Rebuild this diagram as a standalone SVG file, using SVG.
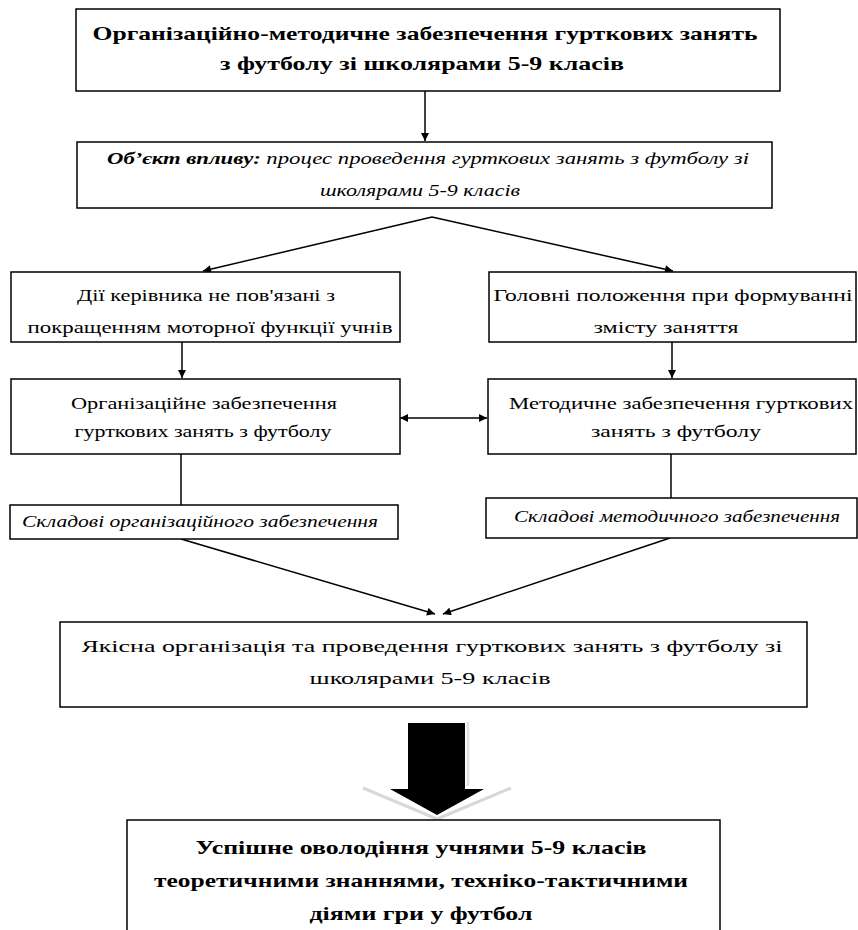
<svg xmlns="http://www.w3.org/2000/svg" width="858" height="930" viewBox="0 0 858 930" font-family="Liberation Serif, Times New Roman, Times, serif">
<style>
.box{fill:#fff;stroke:#000;stroke-width:1.5}
text{font-family:'Liberation Serif',serif}
.t{font-size:17px;fill:#000;text-anchor:middle}
.b{font-weight:bold;font-size:19px}
.i{font-style:italic;font-size:16px}
.c{stroke:#000;stroke-width:1.5;fill:none}
</style>
<defs>
<marker id="ah" viewBox="0 0 10 10" refX="10" refY="5" markerWidth="9" markerHeight="8" markerUnits="userSpaceOnUse" orient="auto-start-reverse">
<path d="M0,0 L10,5 L0,10 z" fill="#000"/>
</marker>
</defs>
<rect width="858" height="930" fill="#fff"/>

<g id="connectors">
<line class="c" x1="425" y1="91" x2="425" y2="141" marker-end="url(#ah)"/>
<line class="c" x1="432" y1="217" x2="203" y2="271" marker-end="url(#ah)"/>
<line class="c" x1="432" y1="217" x2="673" y2="271" marker-end="url(#ah)"/>
<line class="c" x1="182" y1="342" x2="182" y2="378" marker-end="url(#ah)"/>
<line class="c" x1="672" y1="342" x2="672" y2="378" marker-end="url(#ah)"/>
<line class="c" x1="400" y1="418" x2="487" y2="418" marker-start="url(#ah)" marker-end="url(#ah)"/>
<line class="c" x1="181" y1="454" x2="181" y2="505"/>
<line class="c" x1="671" y1="454" x2="671" y2="498"/>
<line class="c" x1="181" y1="539" x2="435" y2="614" marker-end="url(#ah)"/>
<line class="c" x1="670" y1="538" x2="443" y2="614" marker-end="url(#ah)"/>
<g id="big-arrow">
<path d="M363,788 L437,819 L511,788" fill="none" stroke="#d8d8d8" stroke-width="3"/>
<line x1="468" y1="722" x2="468" y2="786" stroke="#e2e2e2" stroke-width="3"/>
<path d="M408,723 L465,723 L465,789 L484,789 L437,815 L390,789 L408,789 z" fill="#000"/>
</g>
</g>

<g id="n-top">
<rect class="box" x="76" y="9" width="704" height="82"/>
<text class="t b" x="425" y="40" textLength="665" lengthAdjust="spacingAndGlyphs">Організаційно-методичне забезпечення гурткових занять</text>
<text class="t b" x="422" y="70" textLength="404" lengthAdjust="spacingAndGlyphs">з футболу зі школярами 5-9 класів</text>
</g>

<g id="n-object">
<rect class="box" x="77" y="142" width="695" height="66"/>
<text class="t i" x="428" y="164" textLength="642" lengthAdjust="spacingAndGlyphs"><tspan font-weight="bold">Об’єкт впливу:</tspan> процес проведення гурткових занять з футболу зі</text>
<text class="t i" x="420" y="196" textLength="200" lengthAdjust="spacingAndGlyphs">школярами 5-9 класів</text>
</g>

<g id="n-actions">
<rect class="box" x="11" y="272" width="389" height="70"/>
<text class="t" x="206" y="301" textLength="258" lengthAdjust="spacingAndGlyphs">Дії керівника не пов'язані з</text>
<text class="t" x="210" y="333" textLength="365" lengthAdjust="spacingAndGlyphs">покращенням моторної функції учнів</text>
</g>

<g id="n-main">
<rect class="box" x="489" y="272" width="367" height="70"/>
<text class="t" x="673" y="301" textLength="359" lengthAdjust="spacingAndGlyphs">Головні положення при формуванні</text>
<text class="t" x="666" y="333" textLength="145" lengthAdjust="spacingAndGlyphs">змісту заняття</text>
</g>

<g id="n-org">
<rect class="box" x="11" y="379" width="389" height="75"/>
<text class="t" x="204" y="409" textLength="266" lengthAdjust="spacingAndGlyphs">Організаційне забезпечення</text>
<text class="t" x="203" y="437" textLength="257" lengthAdjust="spacingAndGlyphs">гурткових занять з футболу</text>
</g>

<g id="n-method">
<rect class="box" x="488" y="379" width="368" height="75"/>
<text class="t" x="681" y="409" textLength="344" lengthAdjust="spacingAndGlyphs">Методичне забезпечення гурткових</text>
<text class="t" x="676" y="437" textLength="170" lengthAdjust="spacingAndGlyphs">занять з футболу</text>
</g>

<g id="n-org-parts">
<rect class="box" x="10" y="505" width="388" height="34"/>
<text class="t i" x="200" y="527" textLength="356" lengthAdjust="spacingAndGlyphs">Складові організаційного забезпечення</text>
</g>

<g id="n-method-parts">
<rect class="box" x="486" y="498" width="371" height="40"/>
<text class="t i" x="677" y="522" textLength="326" lengthAdjust="spacingAndGlyphs">Складові методичного забезпечення</text>
</g>

<g id="n-result">
<rect class="box" x="60" y="622" width="747" height="85"/>
<text class="t" x="432" y="652" textLength="701" lengthAdjust="spacingAndGlyphs">Якісна організація та проведення гурткових занять з футболу зі</text>
<text class="t" x="430" y="684" textLength="241" lengthAdjust="spacingAndGlyphs">школярами 5-9 класів</text>
</g>

<g id="n-success">
<rect class="box" x="127" y="820" width="593" height="120"/>
<text class="t b" x="421" y="854" textLength="451" lengthAdjust="spacingAndGlyphs">Успішне оволодіння учнями 5-9 класів</text>
<text class="t b" x="421" y="887" textLength="534" lengthAdjust="spacingAndGlyphs">теоретичними знаннями, техніко-тактичними</text>
<text class="t b" x="421" y="920" textLength="223" lengthAdjust="spacingAndGlyphs">діями гри у футбол</text>
</g>
</svg>
